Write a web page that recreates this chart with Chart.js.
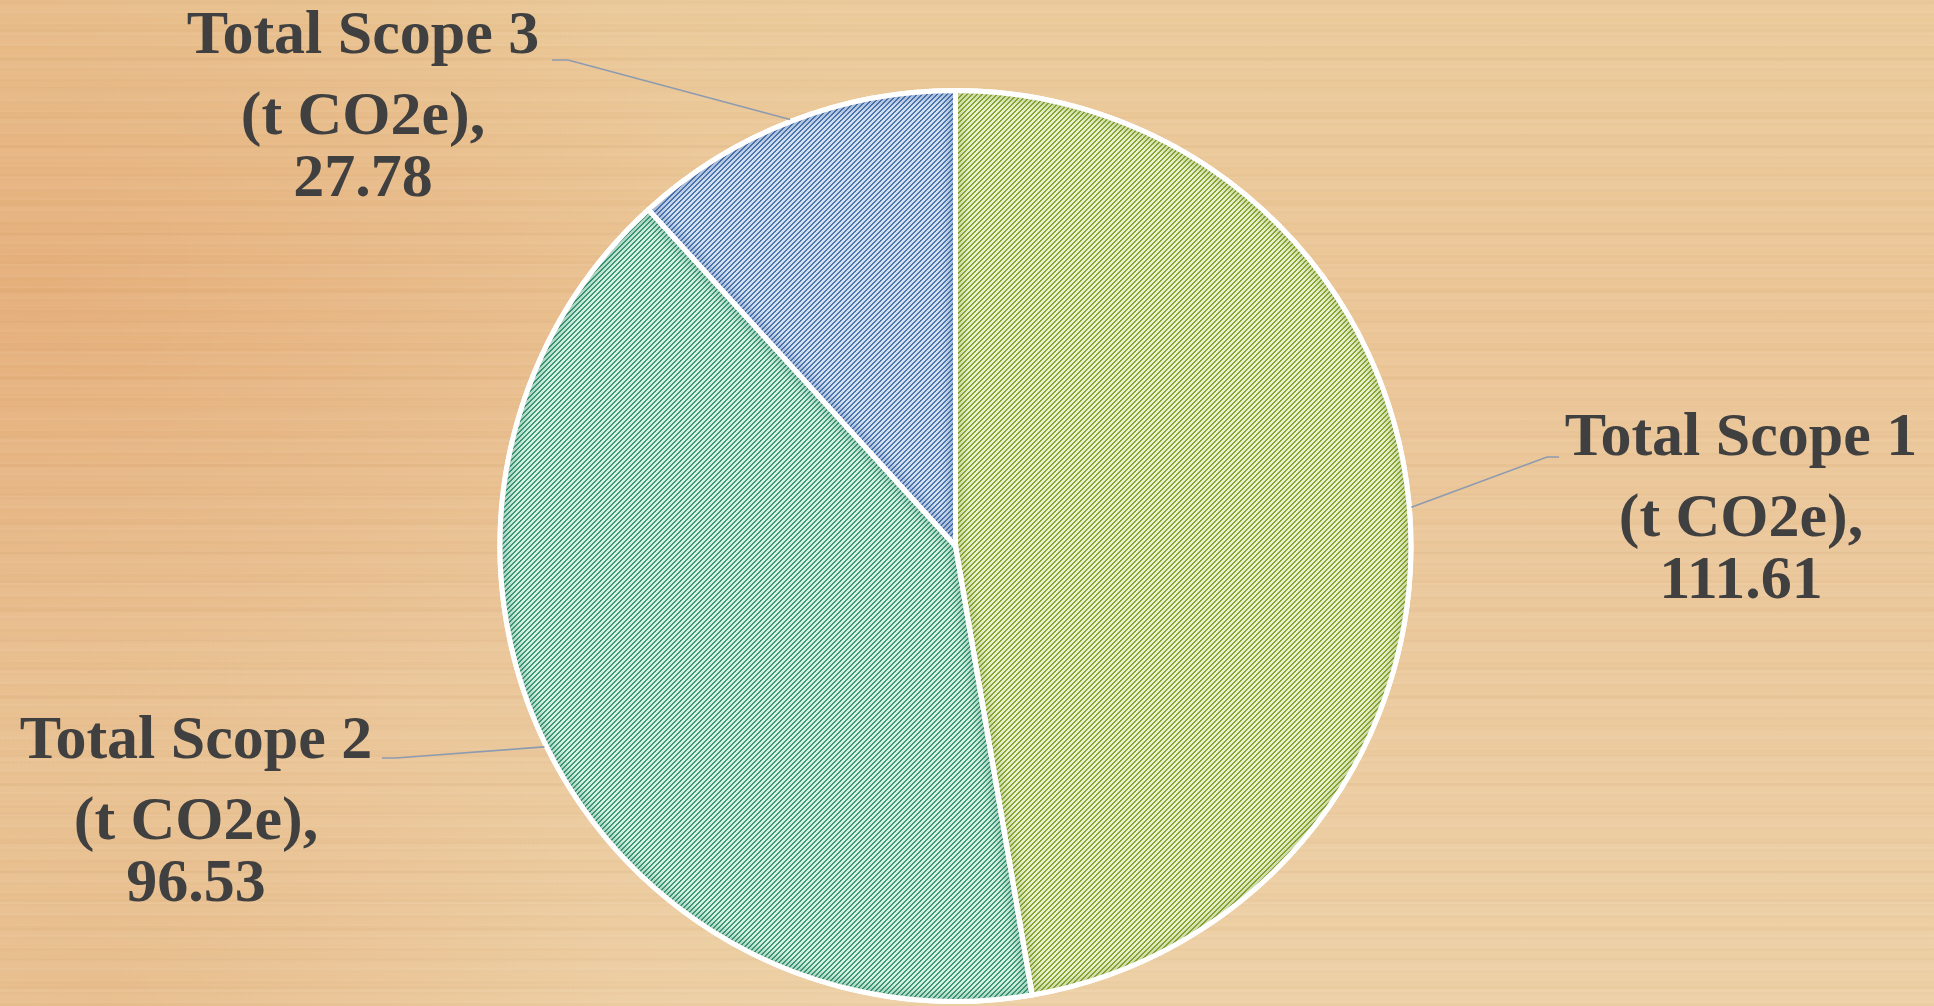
<!DOCTYPE html>
<html>
<head>
<meta charset="utf-8">
<script src="https://cdn.jsdelivr.net/npm/chart.js@4.4.1/dist/chart.umd.min.js"></script>
<style>
  html, body { margin: 0; padding: 0; width: 1934px; height: 1006px; overflow: hidden; }
  body {
    background:
      repeating-linear-gradient(180deg, rgba(255,255,255,0.035) 0 2px, rgba(150,100,50,0.025) 2px 5px, rgba(255,255,255,0) 5px 11px),
      repeating-linear-gradient(180deg, rgba(140,95,45,0.03) 0 3px, rgba(255,255,255,0.03) 3px 17px, rgba(140,95,45,0) 17px 29px),
      radial-gradient(ellipse 700px 480px at 40px 290px, rgba(224,155,98,0.45), rgba(224,155,98,0) 100%),
      radial-gradient(ellipse 520px 380px at 100px 1006px, rgba(224,162,108,0.3), rgba(224,162,108,0) 100%),
      linear-gradient(90deg, rgba(228,172,115,0.22) 0%, rgba(236,200,150,0) 45%),
      linear-gradient(180deg, #ebcb9b 0%, #ebc596 30%, #ebc89c 60%, #edd0a5 100%);
  }
  #wrap { position: relative; width: 1934px; height: 1006px; }
</style>
</head>
<body>
<div id="wrap"><canvas id="my-chart" width="1934" height="1006"></canvas></div>
<script>
const categories = ["Total Scope 1", "Total Scope 2", "Total Scope 3"];
const unitLine = "(t CO2e),";
const emissions = [111.61, 96.53, 27.78];

const canvas = document.getElementById("my-chart");
const ctx = canvas.getContext("2d");

// upward diagonal hatch, 5px period, 2px thick
function makeHatch(bg, fg) {
  const size = 5;
  const tile = document.createElement("canvas");
  tile.width = size;
  tile.height = size;
  const t = tile.getContext("2d");
  t.fillStyle = bg;
  t.fillRect(0, 0, size, size);
  t.fillStyle = fg;
  for (let y = 0; y < size; y++) {
    for (let x = 0; x < size; x++) {
      if ((x + y) % size < 2) t.fillRect(x, y, 1, 1);
    }
  }
  return ctx.createPattern(tile, "repeat");
}

const sliceFills = [
  makeHatch("#eaf3cf", "#8aa735"),
  makeHatch("#d6f2e4", "#3f9a77"),
  makeHatch("#d4e1f1", "#4d78b1")
];
const edgeShades = ["rgba(110,140,30,0.3)", "rgba(30,120,85,0.3)", "rgba(40,80,150,0.3)"];

function arcPath(c, arc) {
  c.beginPath();
  c.moveTo(arc.x, arc.y);
  c.arc(arc.x, arc.y, arc.outerRadius, arc.startAngle, arc.endAngle);
  c.closePath();
}

const innerShade = {
  id: "innerShade",
  afterDatasetsDraw(chart) {
    const c = chart.ctx;
    const arcs = chart.getDatasetMeta(0).data;
    arcs.forEach((arc, i) => {
      c.save();
      arcPath(c, arc);
      c.clip();
      c.filter = "blur(5px)";
      c.strokeStyle = edgeShades[i];
      c.lineWidth = 14;
      arcPath(c, arc);
      c.stroke();
      c.restore();
    });
    arcs.forEach(arc => {
      c.save();
      c.strokeStyle = "#ffffff";
      c.lineWidth = 5;
      c.lineJoin = "round";
      arcPath(c, arc);
      c.stroke();
      c.restore();
    });
  }
};

const calloutPlugin = {
  id: "callouts",
  afterDatasetsDraw(chart, args, opts) {
    const c = chart.ctx;
    const arcs = chart.getDatasetMeta(0).data;
    arcs.forEach((arc, i) => {
      const spot = opts.placements[i];
      const mid = (arc.startAngle + arc.endAngle) / 2;
      const sx = arc.x + Math.cos(mid) * (arc.outerRadius + 2);
      const sy = arc.y + Math.sin(mid) * (arc.outerRadius + 2);

      c.save();
      c.strokeStyle = opts.lineColor;
      c.lineWidth = 1.6;
      c.beginPath();
      c.moveTo(sx, sy);
      c.lineTo(spot.elbowX, spot.elbowY);
      c.lineTo(spot.endX, spot.elbowY);
      c.stroke();

      c.fillStyle = opts.color;
      c.font = opts.font;
      c.textAlign = "center";
      c.textBaseline = "alphabetic";
      const lines = [categories[i], unitLine, emissions[i].toFixed(2)];
      lines.forEach((txt, k) => c.fillText(txt, spot.x, spot.y + opts.lineOffsets[k]));
      c.restore();
    });
  }
};

new Chart(canvas, {
  type: "pie",
  data: {
    labels: categories,
    datasets: [{
      data: emissions,
      backgroundColor: sliceFills,
      borderColor: "#ffffff",
      borderWidth: 5
    }]
  },
  options: {
    responsive: false,
    animation: false,
    devicePixelRatio: 1,
    layout: { padding: { left: 497, right: 520, top: 88, bottom: 2 } },
    plugins: {
      legend: { display: false },
      tooltip: { enabled: false },
      callouts: {
        color: "#404040",
        font: "bold 62px 'Liberation Serif', serif",
        lineColor: "#8d9bb0",
        lineOffsets: [0, 81, 143],
        placements: [
          { x: 1741, y: 455, elbowX: 1547, elbowY: 457, endX: 1559 },
          { x: 196, y: 758, elbowX: 396, elbowY: 758, endX: 382 },
          { x: 363, y: 53, elbowX: 568, elbowY: 60, endX: 552 }
        ]
      }
    }
  },
  plugins: [innerShade, calloutPlugin]
});
</script>
</body>
</html>
